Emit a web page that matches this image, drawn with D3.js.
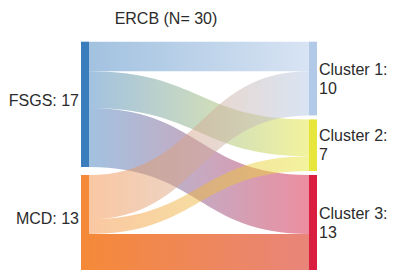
<!DOCTYPE html>
<html>
<head>
    <title>ERCB Sankey</title>
    <script src="https://d3js.org/d3.v7.min.js"></script>
    <style>
        body { margin: 0; background: white; }
        text { font-family: Arial, "Liberation Sans", sans-serif; fill: #2b2b2b; }
    </style>
</head>
<body>
    <div id="chart"></div>
    <script>
        // data
        var title = "ERCB (N= 30)";
        var sources = ["FSGS", "MCD"];
        var targets = ["Cluster 1", "Cluster 2", "Cluster 3"];
        // counts[source][target]
        var counts = [
            [4, 5, 8],
            [6, 2, 5]
        ];

        var sourceColors = ["#3a7dbd", "#f5893a"];
        var targetColors = ["#b2c9e8", "#e6e63c", "#d91e40"];

        var width = 393, height = 270;
        var plotTop = 41.7, plotBottom = 270.8, pad = 4, nodeW = 8;

        var svg = d3.select("#chart").append("svg")
            .attr("width", width)
            .attr("height", height);

        // nodes
        var srcNodes = sources.map(function(name, i) {
            return { name: name, value: d3.sum(counts[i]), color: sourceColors[i], col: 0, i: i };
        });
        var tgtNodes = targets.map(function(name, j) {
            return { name: name, value: d3.sum(counts, function(r) { return r[j]; }), color: targetColors[j], col: 1, i: j };
        });
        var total = d3.sum(srcNodes, function(d) { return d.value; });
        var maxN = Math.max(srcNodes.length, tgtNodes.length);

        var x = d3.scalePoint().domain([0, 1]).range([81, 309]);
        var k = d3.scaleLinear().domain([0, total])
            .range([0, plotBottom - plotTop - (maxN - 1) * pad]);

        function placeColumn(nodes) {
            var used = d3.sum(nodes, function(d) { return k(d.value); });
            var gap = nodes.length > 1 ? (plotBottom - plotTop - used) / (nodes.length - 1) : 0;
            var y = plotTop;
            nodes.forEach(function(d) {
                d.x0 = x(d.col);
                d.x1 = d.x0 + nodeW;
                d.y0 = y;
                d.y1 = y + k(d.value);
                y = d.y1 + gap;
            });
        }
        placeColumn(srcNodes);
        placeColumn(tgtNodes);

        // links
        var links = [];
        srcNodes.forEach(function(s) {
            tgtNodes.forEach(function(t) {
                links.push({ source: s, target: t, value: counts[s.i][t.i] });
            });
        });
        srcNodes.forEach(function(s) {
            var y = s.y0;
            links.filter(function(l) { return l.source === s; }).forEach(function(l) {
                l.sy0 = y; l.sy1 = y + k(l.value); y = l.sy1;
            });
        });
        tgtNodes.forEach(function(t) {
            var y = t.y0;
            links.filter(function(l) { return l.target === t; }).forEach(function(l) {
                l.ty0 = y; l.ty1 = y + k(l.value); y = l.ty1;
            });
        });

        var defs = svg.append("defs");
        links.forEach(function(l, i) {
            // the MCD -> Cluster 3 band is drawn solid in the original
            var strong = l.source.name === "MCD" && l.target.name === "Cluster 3";
            var g = defs.append("linearGradient")
                .attr("id", "lg" + i)
                .attr("gradientUnits", "userSpaceOnUse")
                .attr("x1", l.source.x1).attr("x2", l.target.x0)
                .attr("y1", 0).attr("y2", 0);
            g.append("stop").attr("offset", "0%")
                .attr("stop-color", l.source.color)
                .attr("stop-opacity", strong ? 1 : 0.47);
            g.append("stop").attr("offset", "100%")
                .attr("stop-color", strong ? "#e8857a" : l.target.color)
                .attr("stop-opacity", strong ? 1 : 0.5);
        });

        function ribbon(l) {
            var x0 = l.source.x1, x1 = l.target.x0, xm = (x0 + x1) / 2;
            var p = d3.path();
            p.moveTo(x0, l.sy0);
            p.bezierCurveTo(xm, l.sy0, xm, l.ty0, x1, l.ty0);
            p.lineTo(x1, l.ty1);
            p.bezierCurveTo(xm, l.ty1, xm, l.sy1, x0, l.sy1);
            p.closePath();
            return p.toString();
        }

        svg.append("g").selectAll("path")
            .data(links)
            .enter()
            .append("path")
            .attr("d", ribbon)
            .attr("fill", function(d, i) { return "url(#lg" + i + ")"; });

        var allNodes = srcNodes.concat(tgtNodes);
        svg.append("g").selectAll("rect")
            .data(allNodes)
            .enter()
            .append("rect")
            .attr("x", function(d) { return d.x0; })
            .attr("y", function(d) { return d.y0; })
            .attr("width", nodeW)
            .attr("height", function(d) { return d.y1 - d.y0; })
            .attr("fill", function(d) { return d.color; });

        // labels
        svg.append("g").selectAll("text")
            .data(srcNodes)
            .enter()
            .append("text")
            .attr("x", function(d) { return d.x0 - 2; })
            .attr("y", function(d) { return (d.y0 + d.y1) / 2 + 1.5; })
            .attr("text-anchor", "end")
            .attr("font-size", "16px")
            .text(function(d) { return d.name + ": " + d.value; });

        var rl = svg.append("g").selectAll("text")
            .data(tgtNodes)
            .enter()
            .append("text")
            .attr("font-size", "16px");
        rl.append("tspan")
            .attr("x", function(d) { return d.x1 + 2; })
            .attr("y", function(d) { return (d.y0 + d.y1) / 2 - 4; })
            .text(function(d) { return d.name + ":"; });
        rl.append("tspan")
            .attr("x", function(d) { return d.x1 + 2; })
            .attr("dy", 19)
            .text(function(d) { return d.value; });

        svg.append("text")
            .attr("x", 166)
            .attr("y", 24)
            .attr("text-anchor", "middle")
            .attr("font-size", "16px")
            .text(title);
    </script>
</body>
</html>
